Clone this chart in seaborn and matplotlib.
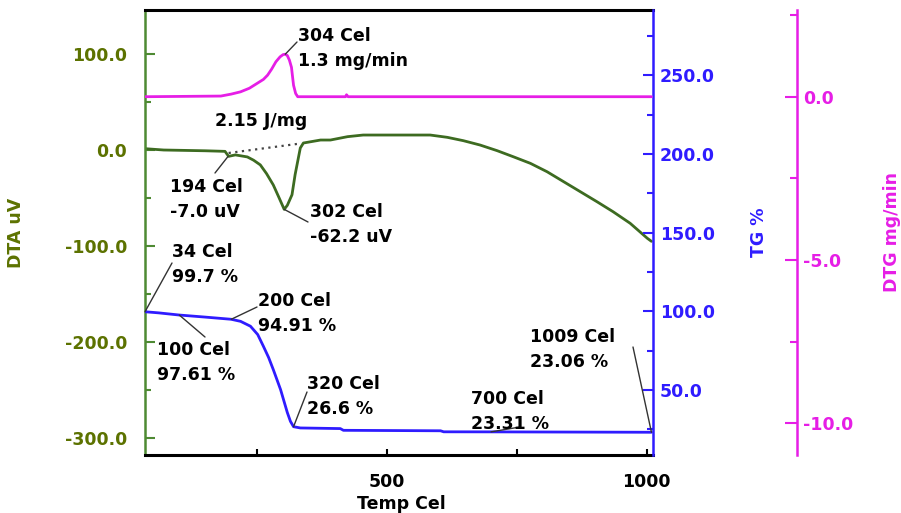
import matplotlib
matplotlib.use("Agg")
import matplotlib.pyplot as plt
from matplotlib.ticker import MultipleLocator, FixedLocator, FormatStrFormatter
import seaborn as sns

# DTA signal (uV) vs temperature (Cel)
dta_temp = [34, 70, 150, 188, 195, 208, 231, 243, 256, 268, 281, 292, 302, 308, 317, 323, 333,
            339, 372, 391, 424, 454, 520, 583, 616, 647, 679, 712, 743, 776, 808, 840, 872,
            904, 935, 968, 1001, 1009]
dta_uv = [1.0, -0.4, -1.2, -1.8, -7.0, -5.5, -7.6, -11.0, -15.9, -25.0, -36.8, -50.0, -62.2,
          -58.0, -47.0, -26.0, 1.7, 6.9, 10.0, 10.0, 13.5, 15.2, 15.2, 15.2, 12.8, 9.3, 4.8,
          -1.1, -7.4, -14.3, -23.0, -33.4, -43.8, -54.2, -64.6, -76.7, -92.3, -95.5]
# integration baseline under the DTA peak
base_temp = [195, 335]
base_uv = [-3.5, 6.5]

# TG mass (%) vs temperature
tg_temp = [34, 60, 100, 150, 200, 218, 237, 251, 262, 272, 281, 295, 308, 314, 320, 333,
           410, 416, 603, 609, 700, 1009]
tg_pct = [99.7, 99.0, 97.61, 96.3, 94.91, 93.6, 90.5, 85.2, 77.7, 70.6, 62.9, 50.2, 35.6,
          30.0, 26.6, 25.8, 25.4, 24.3, 24.0, 23.35, 23.31, 23.06]

# DTG (mg/min) vs temperature
dtg_temp = [34, 180, 200, 218, 235, 251, 262, 270, 278, 286, 294, 300, 304, 308, 312, 316,
            318, 320, 324, 328, 420, 422, 425, 1009]
dtg_rate = [0.0, 0.02, 0.08, 0.15, 0.26, 0.42, 0.53, 0.66, 0.85, 1.07, 1.22, 1.29, 1.3,
            1.26, 1.12, 0.9, 0.62, 0.35, 0.1, 0.0, 0.0, 0.06, 0.0, 0.0]

# annotation labels: (series, temp, value, text)
notes = [
    ("dtg", 304, 1.3, "304 Cel\n1.3 mg/min"),
    ("dta", 194, -7.0, "194 Cel\n-7.0 uV"),
    ("dta", 302, -62.2, "302 Cel\n-62.2 uV"),
    ("tg", 34, 99.7, "34 Cel\n99.7 %"),
    ("tg", 100, 97.61, "100 Cel\n97.61 %"),
    ("tg", 200, 94.91, "200 Cel\n94.91 %"),
    ("tg", 320, 26.6, "320 Cel\n26.6 %"),
    ("tg", 700, 23.31, "700 Cel\n23.31 %"),
    ("tg", 1009, 23.06, "1009 Cel\n23.06 %"),
]
peak_energy = "2.15 J/mg"

# layout (pixel positions on the 901x513 canvas): text left/top, leader end
note_text_px = [(298, 27), (170, 178), (310, 203), (172, 243), (157, 341), (258, 292),
                (307, 375), (471, 390), (530, 328)]
note_line_px = [(297, 42), (215, 173), (308, 222), (172, 263), (205, 337), (257, 307),
                (307, 392), (520, 427), (633, 347)]

DTA_LINE = "#3d6b21"
DTA_SPINE = "#4e8a33"
DTA_TEXT = "#5c7200"
TG_COL = "#2f1cff"
DTG_COL = "#e61ee6"
FS = 12.5

sns.set_theme(style="white")
plt.rcParams["font.family"] = ["DejaVu Sans"]
plt.rcParams["font.weight"] = "bold"
plt.rcParams["axes.unicode_minus"] = False

fig = plt.figure(figsize=(9.01, 5.13), dpi=100)
L, R, T, B = 145, 653, 10, 455
ax = fig.add_axes([L / 901, (513 - B) / 513, (R - L) / 901, (B - T) / 513])
ax_tg = ax.twinx()
ax_dtg = ax.twinx()


def px_to_axes(px, py):
    return (px - L) / (R - L), (B - py) / (B - T)


sns.lineplot(x=dta_temp, y=dta_uv, ax=ax, color=DTA_LINE, linewidth=2.0, estimator=None, sort=False)
ax.plot(base_temp, base_uv, color="#444444", linestyle=(0, (1, 2)), linewidth=1.6)
sns.lineplot(x=tg_temp, y=tg_pct, ax=ax_tg, color=TG_COL, linewidth=2.0, estimator=None, sort=False)
sns.lineplot(x=dtg_temp, y=dtg_rate, ax=ax_dtg, color=DTG_COL, linewidth=2.0, estimator=None, sort=False)

ax.set_xlim(34, 1012)
ax.set_ylim(-318, 145.4)
ax_tg.set_ylim(8.6, 291.6)
ax_dtg.set_ylim(-10.97, 2.655)

# main axis (DTA + temperature)
ax.xaxis.set_major_locator(FixedLocator([500, 1000]))
ax.xaxis.set_minor_locator(FixedLocator([250, 750]))
ax.yaxis.set_major_locator(MultipleLocator(100))
ax.yaxis.set_minor_locator(MultipleLocator(50))
ax.yaxis.set_major_formatter(FormatStrFormatter("%.1f"))
ax.tick_params(axis="x", which="both", bottom=True, top=False, direction="in", length=4,
               width=1.5, pad=13, labelsize=FS, colors="black")
ax.tick_params(axis="y", which="major", left=True, right=False, direction="in", length=7,
               width=1.5, pad=13, labelsize=FS, color=DTA_SPINE, labelcolor=DTA_TEXT)
ax.tick_params(axis="y", which="minor", left=True, right=False, direction="in", length=4.5,
               width=1.5, color=DTA_SPINE)
for s in ["top", "bottom"]:
    ax.spines[s].set_color("black")
    ax.spines[s].set_linewidth(2.2)
ax.spines["left"].set_color(DTA_SPINE)
ax.spines["left"].set_linewidth(1.8)
ax.spines["right"].set_visible(False)
ax.set_xlabel("Temp Cel", fontsize=FS, color="black", fontweight="bold")
ax.xaxis.set_label_coords(0.504, -0.09)
ax.set_ylabel("DTA uV", fontsize=FS, color=DTA_TEXT, fontweight="bold")
ax.yaxis.set_label_coords(-0.236, 0.5)

# TG axis
ax_tg.yaxis.set_major_locator(MultipleLocator(50))
ax_tg.yaxis.set_minor_locator(MultipleLocator(25))
ax_tg.yaxis.set_major_formatter(FormatStrFormatter("%.1f"))
ax_tg.tick_params(axis="y", which="major", right=True, left=False, direction="in", length=7,
                  width=1.5, pad=5, labelsize=FS, colors=TG_COL)
ax_tg.tick_params(axis="y", which="minor", right=True, left=False, direction="in", length=4.5,
                  width=1.5, colors=TG_COL)
for s in ["top", "bottom", "left"]:
    ax_tg.spines[s].set_visible(False)
ax_tg.spines["right"].set_color(TG_COL)
ax_tg.spines["right"].set_linewidth(1.8)
ax_tg.set_ylabel("TG %", fontsize=FS, color=TG_COL, fontweight="bold")
ax_tg.yaxis.set_label_coords(1.191, 0.5)

# DTG axis, offset to the right
ax_dtg.spines["right"].set_position(("axes", (797 - L) / (R - L)))
for s in ["top", "bottom", "left"]:
    ax_dtg.spines[s].set_visible(False)
ax_dtg.spines["right"].set_color(DTG_COL)
ax_dtg.spines["right"].set_linewidth(1.8)
ax_dtg.yaxis.set_major_locator(MultipleLocator(5))
ax_dtg.yaxis.set_minor_locator(MultipleLocator(2.5))
ax_dtg.yaxis.set_major_formatter(FormatStrFormatter("%.1f"))
ax_dtg.tick_params(axis="y", which="major", right=True, left=False, direction="in", length=8.5,
                   width=1.5, pad=4.5, labelsize=FS, colors=DTG_COL)
ax_dtg.tick_params(axis="y", which="minor", right=True, left=False, direction="in", length=5,
                   width=1.5, colors=DTG_COL)
ax_dtg.set_ylabel("DTG mg/min", fontsize=FS, color=DTG_COL, fontweight="bold")
ax_dtg.yaxis.set_label_coords(1.4528, 0.5)

# annotations with leader lines
series_ax = {"dta": ax, "tg": ax_tg, "dtg": ax_dtg}
for (key, t, v, txt), tpos, lpos in zip(notes, note_text_px, note_line_px):
    a = series_ax[key]
    a.annotate("", xy=(t, v), xycoords="data", xytext=px_to_axes(*lpos), textcoords="axes fraction",
               arrowprops=dict(arrowstyle="-", color="#333333", lw=1.0, shrinkA=0, shrinkB=0))
    tx, ty = px_to_axes(*tpos)
    ax_dtg.text(tx, ty, txt, transform=ax_dtg.transAxes, ha="left", va="top", fontsize=FS,
                fontweight="bold", color="black", linespacing=1.5)

ex, ey = px_to_axes(215, 112)
ax_dtg.text(ex, ey, peak_energy, transform=ax_dtg.transAxes, ha="left", va="top", fontsize=FS,
            fontweight="bold", color="black")

fig.savefig("out.png", dpi=100)
plt.close(fig)
